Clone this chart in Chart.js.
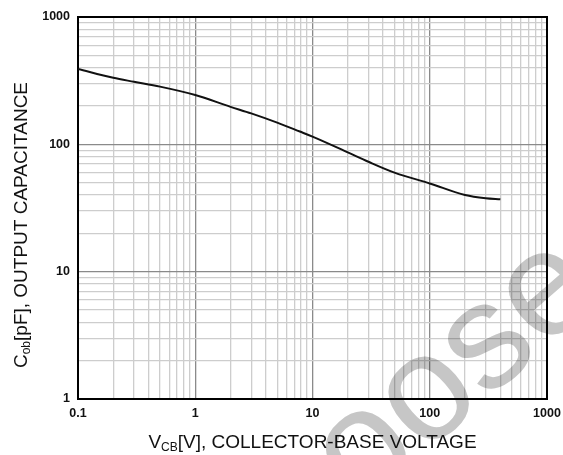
<!DOCTYPE html>
<html>
<head>
<meta charset="utf-8">
<script src="https://cdn.jsdelivr.net/npm/chart.js@4.4.1/dist/chart.umd.min.js"></script>
<style>
    html, body { margin: 0; padding: 0; background: #fff; }
    #wrap { width: 563px; height: 455px; }
</style>
</head>
<body>
<div id="wrap"><canvas id="cob-chart" width="563" height="455"></canvas></div>
<script>
// VCB [V] vs Cob [pF]
const VCB = [0.1, 0.2, 0.3, 0.5, 1, 2, 3, 5, 7.8, 10, 20, 30, 50, 100, 200, 300, 400];
const COB = [391, 333, 310, 284, 244, 197, 175, 148, 126, 115, 86.5, 73, 60, 49.3, 40, 37.7, 37];

const X_MIN = 0.1, X_MAX = 1000;
const Y_MIN = 1,   Y_MAX = 1000;

const FONT = "'Liberation Sans', Arial, sans-serif";

function logTicks(min, max) {
    const out = [];
    for (let e = Math.floor(Math.log10(min)); e < Math.ceil(Math.log10(max)); e++) {
        for (let m = 1; m <= 9; m++) {
            const v = parseFloat((m * Math.pow(10, e)).toPrecision(6));
            if (v >= min && v <= max) out.push({ value: v });
        }
    }
    out.push({ value: max });
    return out;
}

const isDecade = (v) => Math.abs(Math.log10(v) - Math.round(Math.log10(v))) < 1e-9;

const gridColor = (ctx) => (ctx.tick && isDecade(ctx.tick.value)) ? '#8a8a8a' : '#cdcdcd';

function drawRich(ctx, parts, x, y) {
    let w = 0;
    parts.forEach(([t, f]) => { ctx.font = f; w += ctx.measureText(t).width; });
    let cx = x - w / 2;
    parts.forEach(([t, f, dy]) => {
        ctx.font = f;
        ctx.fillText(t, cx, y + dy);
        cx += ctx.measureText(t).width;
    });
}

const frame = {
    id: 'frame',
    beforeDatasetsDraw(chart) {
        const { ctx, chartArea: a } = chart;
        // watermark, faded behind the curve
        ctx.save();
        ctx.globalCompositeOperation = 'multiply';
        ctx.translate(456, 372);
        ctx.rotate(-41 * Math.PI / 180);
        ctx.fillStyle = '#c6c6c6';
        ctx.font = `150px ${FONT}`;
        ctx.textAlign = 'center';
        ctx.textBaseline = 'middle';
        ctx.fillText('oose', 0, 0);
        ctx.restore();

        ctx.save();
        ctx.strokeStyle = '#000';
        ctx.lineWidth = 2;
        ctx.strokeRect(a.left, a.top, a.right - a.left, a.bottom - a.top);
        ctx.restore();
    },
    afterDraw(chart) {
        const { ctx, chartArea: a } = chart;
        const big = `19px ${FONT}`, sub = `12px ${FONT}`;
        ctx.save();
        ctx.fillStyle = '#111';
        ctx.textBaseline = 'alphabetic';

        drawRich(ctx, [['V', big, 0], ['CB', sub, 3], ['[V], COLLECTOR-BASE VOLTAGE', big, 0]],
                 (a.left + a.right) / 2, 448);

        ctx.translate(27, 225);
        ctx.rotate(-Math.PI / 2);
        drawRich(ctx, [['C', big, 0], ['ob', sub, 3], ['[pF], OUTPUT CAPACITANCE', big, 0]], 0, 0);
        ctx.restore();
    },
};

const tickFont = { family: FONT, size: 12.5, weight: 'bold' };

new Chart(document.getElementById('cob-chart'), {
    type: 'line',
    data: {
        datasets: [{
            data: VCB.map((v, i) => ({ x: v, y: COB[i] })),
            borderColor: '#111',
            borderWidth: 2,
            pointRadius: 0,
            fill: false,
            cubicInterpolationMode: 'monotone',
        }],
    },
    options: {
        responsive: false,
        animation: false,
        layout: { padding: { top: 17, right: 16, left: 0, bottom: 0 } },
        plugins: { legend: { display: false }, tooltip: { enabled: false } },
        scales: {
            x: {
                type: 'logarithmic',
                min: X_MIN,
                max: X_MAX,
                afterBuildTicks: (s) => { s.ticks = logTicks(X_MIN, X_MAX); },
                afterFit: (s) => { s.height = 56; s.paddingLeft = 0; s.paddingRight = 0; },
                grid: { color: gridColor, lineWidth: 1.3, drawTicks: false },
                border: { color: '#000', width: 2 },
                ticks: {
                    autoSkip: false,
                    maxRotation: 0,
                    padding: 7,
                    color: '#111',
                    font: tickFont,
                    callback: (v) => isDecade(v) ? String(v) : '',
                },
            },
            y: {
                type: 'logarithmic',
                min: Y_MIN,
                max: Y_MAX,
                afterBuildTicks: (s) => { s.ticks = logTicks(Y_MIN, Y_MAX); },
                afterFit: (s) => { s.width = 78; s.paddingTop = 0; s.paddingBottom = 0; },
                grid: { color: gridColor, lineWidth: 1.3, drawTicks: false },
                border: { color: '#000', width: 2 },
                ticks: {
                    autoSkip: false,
                    padding: 8,
                    color: '#111',
                    font: tickFont,
                    callback: (v) => isDecade(v) ? String(v) : '',
                },
            },
        },
    },
    plugins: [frame],
});
</script>
</body>
</html>
